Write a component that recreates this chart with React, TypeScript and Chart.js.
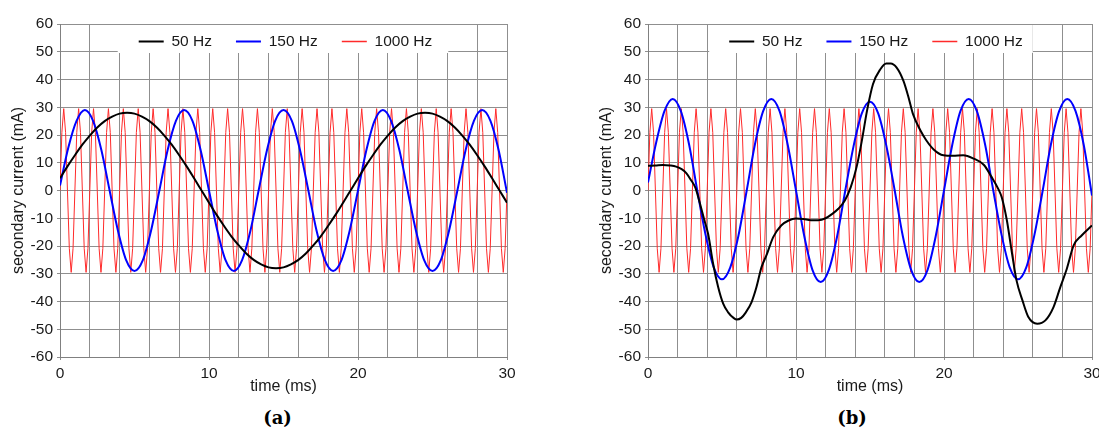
import React, { useEffect, useRef } from "react";
import { Chart, registerables } from "chart.js";

Chart.register(...registerables);

// ---------------- data ----------------
const legendLabels = ["50 Hz", "150 Hz", "1000 Hz"];
const xTitle = "time (ms)";
const yTitle = "secondary current (mA)";
const captions = ["(a)", "(b)"];
const xMin = 0;
const xMax = 30;
const yMin = -60;
const yMax = 60;
const xGridStep = 2;
const xLabelStep = 10;
const yStep = 10;

// (a) 50 Hz, sampled every 0.5 ms from t = 0
const sampleStep50a = 0.5;
const current50a = [
  4.4, 8.7, 12.7, 16.5, 19.8, 22.7, 25.0, 26.6, 27.7, 28.0,
  27.7, 26.6, 25.0, 22.7, 19.8, 16.5, 12.7, 8.7, 4.4, 0.0,
  -4.4, -8.7, -12.7, -16.5, -19.8, -22.7, -25.0, -26.6, -27.7, -28.0,
  -27.7, -26.6, -25.0, -22.7, -19.8, -16.5, -12.7, -8.7, -4.4, 0.0,
  4.4, 8.7, 12.7, 16.5, 19.8, 22.7, 25.0, 26.6, 27.7, 28.0,
  27.7, 26.6, 25.0, 22.7, 19.8, 16.5, 12.7, 8.7, 4.4, 0.0,
  -4.4,
];

// 150 Hz sample times (ms)
const time150 = [
  0, 0.56, 1.11, 1.67, 2.22, 2.78, 3.33, 3.89, 4.44, 5.0,
  5.56, 6.11, 6.67, 7.22, 7.78, 8.33, 8.89, 9.44, 10.0, 10.56,
  11.11, 11.67, 12.22, 12.78, 13.33, 13.89, 14.44, 15.0, 15.56, 16.11,
  16.67, 17.22, 17.78, 18.33, 18.89, 19.44, 20.0, 20.56, 21.11, 21.67,
  22.22, 22.78, 23.33, 23.89, 24.44, 25.0, 25.56, 26.11, 26.67, 27.22,
  27.78, 28.33, 28.89, 29.44, 30.0,
];
const current150a = [
  1.8, 15.5, 25.1, 29.0, 25.1, 14.5, 0, -14.5, -25.1, -29.0,
  -25.1, -14.5, 0, 14.5, 25.1, 29.0, 25.1, 14.5, 0, -14.5,
  -25.1, -29.0, -25.1, -14.5, 0, 14.5, 25.1, 29.0, 25.1, 14.5,
  0, -14.5, -25.1, -29.0, -25.1, -14.5, 0, 14.5, 25.1, 29.0,
  25.1, 14.5, 0, -14.5, -25.1, -29.0, -25.1, -14.5, 0, 14.5,
  25.1, 29.0, 25.1, 14.5, -0.8,
];
const current150b = [
  2.9, 17.5, 28.6, 33.0, 28.6, 16.5, 0, -16.0, -27.7, -32.0,
  -27.7, -16.3, 0, 16.5, 28.6, 33.0, 28.6, 16.5, 0, -16.5,
  -28.6, -33.0, -28.6, -16.5, 0, 16.0, 27.7, 32.0, 27.7, 16.0,
  0, -16.5, -28.6, -33.0, -28.6, -16.5, 0, 16.5, 28.6, 33.0,
  28.6, 16.5, 0, -16.0, -27.7, -32.0, -27.7, -16.0, 0, 16.5,
  28.6, 33.0, 28.6, 16.5, -1.8,
];

// (b) distorted 50 Hz
const time50b = [
  0, 0.5, 1.0, 1.5, 1.9, 2.3, 2.6, 2.9, 3.2, 3.5,
  3.8, 4.06, 4.4, 4.74, 5.08, 5.4, 5.8, 6.0, 6.3, 6.6,
  7.0, 7.33, 7.67, 8.0, 8.46, 9.0, 9.5, 10.0, 10.5, 11.0,
  11.5, 12.0, 12.4, 12.86, 13.3, 13.7, 14.1, 14.45, 14.8, 15.2,
  15.7, 16.1, 16.4, 16.8, 17.26, 17.6, 17.9, 18.4, 18.8, 19.3,
  19.96, 20.6, 21.3, 22.0, 22.7, 23.2, 23.7, 23.9, 24.25, 24.6,
  24.9, 25.3, 25.7, 26.3, 26.85, 27.4, 27.86, 28.3, 28.76, 29.3,
  30.0,
];
const current50b = [
  8.9, 9.0, 9.2, 9.0, 8.6, 7.6, 6.2, 3.8, 1.0, -4.5,
  -10.5, -15.6, -26.4, -34.8, -40.8, -43.8, -46.0, -46.5, -45.9, -44.0,
  -40.2, -34.8, -27.6, -23.4, -16.8, -12.6, -10.8, -10.1, -10.3, -10.7,
  -10.7, -10.0, -8.6, -6.6, -3.6, 1.2, 8.6, 18.0, 28.8, 38.3,
  43.7, 45.8, 45.8, 44.3, 39.5, 33.6, 27.6, 21.7, 18.1, 14.8,
  12.7, 12.5, 12.7, 11.5, 9.2, 5.0, 0.2, -2.4, -10.8, -22.8,
  -32.4, -39.6, -45.6, -48.0, -46.8, -42.0, -34.8, -28.2, -19.8, -16.2,
  -12.6,
];

// 1000 Hz, sampled every 0.125 ms from t = 0 (same in both panels)
const sampleStep1000 = 0.125;
const current1000 = [
  0, 20.9, 29.5, 20.9, 0, -20.9, -29.5, -20.9,
  0, 20.9, 29.5, 20.9, 0, -20.9, -29.5, -20.9,
  0, 20.9, 29.5, 20.9, 0, -20.9, -29.5, -20.9,
  0, 20.9, 29.5, 20.9, 0, -20.9, -29.5, -20.9,
  0, 20.9, 29.5, 20.9, 0, -20.9, -29.5, -20.9,
  0, 20.9, 29.5, 20.9, 0, -20.9, -29.5, -20.9,
  0, 20.9, 29.5, 20.9, 0, -20.9, -29.5, -20.9,
  0, 20.9, 29.5, 20.9, 0, -20.9, -29.5, -20.9,
  0, 20.9, 29.5, 20.9, 0, -20.9, -29.5, -20.9,
  0, 20.9, 29.5, 20.9, 0, -20.9, -29.5, -20.9,
  0, 20.9, 29.5, 20.9, 0, -20.9, -29.5, -20.9,
  0, 20.9, 29.5, 20.9, 0, -20.9, -29.5, -20.9,
  0, 20.9, 29.5, 20.9, 0, -20.9, -29.5, -20.9,
  0, 20.9, 29.5, 20.9, 0, -20.9, -29.5, -20.9,
  0, 20.9, 29.5, 20.9, 0, -20.9, -29.5, -20.9,
  0, 20.9, 29.5, 20.9, 0, -20.9, -29.5, -20.9,
  0, 20.9, 29.5, 20.9, 0, -20.9, -29.5, -20.9,
  0, 20.9, 29.5, 20.9, 0, -20.9, -29.5, -20.9,
  0, 20.9, 29.5, 20.9, 0, -20.9, -29.5, -20.9,
  0, 20.9, 29.5, 20.9, 0, -20.9, -29.5, -20.9,
  0, 20.9, 29.5, 20.9, 0, -20.9, -29.5, -20.9,
  0, 20.9, 29.5, 20.9, 0, -20.9, -29.5, -20.9,
  0, 20.9, 29.5, 20.9, 0, -20.9, -29.5, -20.9,
  0, 20.9, 29.5, 20.9, 0, -20.9, -29.5, -20.9,
  0, 20.9, 29.5, 20.9, 0, -20.9, -29.5, -20.9,
  0, 20.9, 29.5, 20.9, 0, -20.9, -29.5, -20.9,
  0, 20.9, 29.5, 20.9, 0, -20.9, -29.5, -20.9,
  0, 20.9, 29.5, 20.9, 0, -20.9, -29.5, -20.9,
  0, 20.9, 29.5, 20.9, 0, -20.9, -29.5, -20.9,
  0, 20.9, 29.5, 20.9, 0, -20.9, -29.5, -20.9,
  0,
];

// ---------------- styling ----------------
const FONT = '"Liberation Sans", Arial, Helvetica, sans-serif';
const TEXT = "#1a1a1a";
const GRID = "#8f8f8f";
const AXIS = "#808080";
const COLOR_50 = "#000000";
const COLOR_150 = "#0000ff";
const COLOR_1000 = "#ff2a2a";
const CANVAS_H = 400;
const PLOT_TOP = 22;
const LEGEND_FONT = 15.5;
const LEGEND_PAD = 24;
// space Chart.js reserves for the single-row top legend (measured)
const LEGEND_H = LEGEND_FONT + LEGEND_PAD + 8;

Chart.defaults.font.family = FONT;

const stepPts = (step: number, ys: number[]) => ys.map((y, i) => ({ x: i * step, y }));
const xyPts = (xs: number[], ys: number[]) => ys.map((y, i) => ({ x: xs[i], y }));

// moves the (horizontal) legend inside the plot area and paints a white box behind it
const legendBoxPlugin: any = {
  id: "legendBox",
  afterLayout(chart: any, _args: any, opts: any) {
    const lg = chart.legend;
    if (!lg) return;
    const ca = chart.chartArea;
    const lo = chart.options.plugins.legend.labels;
    const fs = lo.font.size;
    const h = lg.height;
    lg.left = ca.left + (opts.shift || 0);
    lg.right = ca.right + (opts.shift || 0);
    lg.width = lg.right - lg.left;
    lg.top = ca.top + opts.lineY - lo.padding - fs / 2;
    lg.bottom = lg.top + h;
  },
  beforeDatasetsDraw(chart: any, _args: any, opts: any) {
    const lg = chart.legend;
    if (!lg || !lg.legendHitBoxes || !lg.legendHitBoxes.length) return;
    const hb = lg.legendHitBoxes;
    const ca = chart.chartArea;
    const ctx = chart.ctx;
    const l = Math.min(...hb.map((h: any) => h.left)) - opts.padLeft;
    const r = Math.max(...hb.map((h: any) => h.left + h.width)) + opts.padRight;
    const t = ca.top + 1;
    const b = ca.top + opts.lineY + opts.padBottom;
    ctx.save();
    ctx.fillStyle = "#ffffff";
    ctx.fillRect(l, t, r - l, b - t);
    ctx.restore();
    lg.draw();
  },
};

function makeConfig(
  d50: { x: number; y: number }[],
  d150: { x: number; y: number }[],
  d1000: { x: number; y: number }[],
  padRight: number,
  legendShift: number,
  boxPadLeft: number,
  boxPadRight: number
): any {
  return {
    type: "line",
    data: {
      datasets: [
        {
          label: legendLabels[0],
          data: d50,
          borderColor: COLOR_50,
          backgroundColor: COLOR_50,
          borderWidth: 2,
          pointRadius: 0,
          pointBorderColor: COLOR_50,
          pointBorderWidth: 2,
          cubicInterpolationMode: "monotone",
          fill: false,
        },
        {
          label: legendLabels[1],
          data: d150,
          borderColor: COLOR_150,
          backgroundColor: COLOR_150,
          borderWidth: 2,
          pointRadius: 0,
          pointBorderColor: COLOR_150,
          pointBorderWidth: 2,
          cubicInterpolationMode: "monotone",
          fill: false,
        },
        {
          label: legendLabels[2],
          data: d1000,
          borderColor: COLOR_1000,
          backgroundColor: COLOR_1000,
          borderWidth: 1,
          pointRadius: 0,
          pointBorderColor: COLOR_1000,
          pointBorderWidth: 1,
          tension: 0,
          fill: false,
        },
      ],
    },
    options: {
      responsive: false,
      animation: false,
      events: [],
      layout: {
        padding: { top: PLOT_TOP - LEGEND_H, right: padRight, bottom: 0, left: 0 },
      },
      scales: {
        x: {
          type: "linear",
          min: xMin,
          max: xMax,
          ticks: {
            stepSize: xGridStep,
            autoSkip: false,
            maxRotation: 0,
            padding: 4,
            color: TEXT,
            font: { size: 15.5 },
            callback: (v: number) => (v % xLabelStep === 0 ? String(v) : ""),
          },
          grid: {
            color: GRID,
            lineWidth: 1,
            tickLength: 3,
            tickColor: (c: any) =>
              c.tick && c.tick.value % xLabelStep === 0 ? GRID : "rgba(0,0,0,0)",
          },
          border: { color: AXIS, width: 1 },
          title: {
            display: true,
            text: xTitle,
            color: TEXT,
            font: { size: 16 },
            padding: { top: 0, bottom: 4 },
          },
          afterFit: (s: any) => {
            s.height = 43;
          },
        },
        y: {
          type: "linear",
          min: yMin,
          max: yMax,
          ticks: {
            stepSize: yStep,
            padding: 4,
            color: TEXT,
            font: { size: 15.5 },
          },
          grid: { color: GRID, lineWidth: 1, tickLength: 3, tickColor: GRID },
          border: { color: AXIS, width: 1 },
          title: {
            display: true,
            text: yTitle,
            color: TEXT,
            font: { size: 16 },
            padding: { top: 9, bottom: 0 },
          },
          afterFit: (s: any) => {
            s.width = 60;
          },
        },
      },
      plugins: {
        tooltip: { enabled: false },
        legend: {
          position: "top",
          align: "center",
          labels: {
            usePointStyle: true,
            pointStyle: "line",
            pointStyleWidth: 25,
            boxHeight: LEGEND_FONT,
            padding: LEGEND_PAD,
            color: TEXT,
            font: { size: LEGEND_FONT },
            generateLabels: (chart: any) =>
              Chart.defaults.plugins.legend.labels
                .generateLabels(chart)
                .map((it: any) => {
                  const ds = chart.data.datasets[it.datasetIndex];
                  return {
                    ...it,
                    strokeStyle: ds.borderColor,
                    fillStyle: ds.borderColor,
                    lineWidth: Math.max(ds.borderWidth, 1.6),
                    pointStyle: "line",
                  };
                }),
          },
        },
        legendBox: {
          lineY: 17.5,
          padBottom: 11.5,
          padLeft: boxPadLeft,
          padRight: boxPadRight,
          shift: legendShift,
        },
      },
    },
    plugins: [legendBoxPlugin],
  };
}

function Panel(props: { left: number; width: number; build: () => any }) {
  const ref = useRef<HTMLCanvasElement>(null);
  useEffect(() => {
    if (!ref.current) return;
    const chart = new Chart(ref.current, props.build());
    return () => chart.destroy();
  }, []);
  return (
    <canvas
      ref={ref}
      width={props.width}
      height={CANVAS_H}
      style={{
        position: "absolute",
        left: props.left,
        top: 0,
        width: props.width,
        height: CANVAS_H,
      }}
    />
  );
}

function Caption(props: { text: string; cx: number; cy: number }) {
  return (
    <div
      style={{
        position: "absolute",
        left: props.cx - 50,
        top: props.cy - 11,
        width: 100,
        height: 22,
        lineHeight: "22px",
        textAlign: "center",
        fontFamily: '"DejaVu Serif", "Liberation Serif", serif',
        fontWeight: "bold",
        fontSize: 18,
        color: "#000",
      }}
    >
      {props.text}
    </div>
  );
}

export default function App() {
  return (
    <div
      style={{
        position: "fixed",
        left: 0,
        top: 0,
        width: 1099,
        height: 432,
        background: "#ffffff",
        overflow: "hidden",
      }}
    >
      <Panel
        left={0}
        width={545}
        build={() =>
          makeConfig(
            stepPts(sampleStep50a, current50a),
            xyPts(time150, current150a),
            stepPts(sampleStep1000, current1000),
            38,
            2,
            21,
            16
          )
        }
      />
      <Panel
        left={588}
        width={525}
        build={() =>
          makeConfig(
            xyPts(time50b, current50b),
            xyPts(time150, current150b),
            stepPts(sampleStep1000, current1000),
            21,
            6,
            20,
            10
          )
        }
      />
      <Caption text={captions[0]} cx={277.5} cy={418} />
      <Caption text={captions[1]} cx={852} cy={417.5} />
    </div>
  );
}
